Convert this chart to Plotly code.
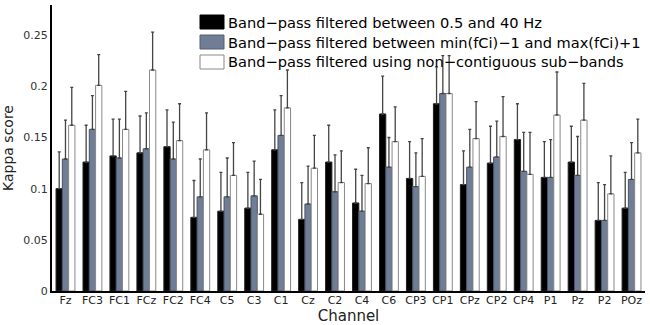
import plotly.graph_objects as go

channels = ["Fz", "FC3", "FC1", "FCz", "FC2", "FC4", "C5", "C3", "C1", "Cz", "C2",
            "C4", "C6", "CP3", "CP1", "CPz", "CP2", "CP4", "P1", "Pz", "P2", "POz"]

broad = [0.100, 0.126, 0.132, 0.135, 0.141, 0.072, 0.078, 0.081, 0.138, 0.070, 0.126,
         0.086, 0.173, 0.110, 0.183, 0.104, 0.125, 0.148, 0.111, 0.126, 0.069, 0.081]
broad_err = [0.036, 0.036, 0.036, 0.036, 0.036, 0.036, 0.038, 0.035, 0.039, 0.036, 0.036,
             0.033, 0.037, 0.036, 0.036, 0.033, 0.036, 0.035, 0.035, 0.035, 0.037, 0.035]

minmax = [0.129, 0.158, 0.130, 0.139, 0.129, 0.092, 0.092, 0.093, 0.152, 0.085, 0.097,
          0.078, 0.121, 0.102, 0.193, 0.121, 0.131, 0.117, 0.111, 0.113, 0.069, 0.109]
minmax_err = [0.038, 0.033, 0.038, 0.035, 0.036, 0.037, 0.038, 0.034, 0.039, 0.037, 0.036,
              0.035, 0.029, 0.033, 0.037, 0.037, 0.035, 0.038, 0.037, 0.038, 0.035, 0.036]

subbands = [0.162, 0.201, 0.158, 0.216, 0.147, 0.138, 0.113, 0.075, 0.179, 0.120, 0.106,
            0.105, 0.146, 0.112, 0.193, 0.149, 0.151, 0.114, 0.172, 0.167, 0.095, 0.135]
subbands_err = [0.037, 0.030, 0.037, 0.037, 0.036, 0.036, 0.032, 0.034, 0.037, 0.032, 0.031,
                0.035, 0.034, 0.037, 0.037, 0.036, 0.039, 0.041, 0.042, 0.036, 0.037, 0.033]

series_names = ["Band\u2212pass filtered between 0.5 and 40 Hz",
                "Band\u2212pass filtered between min(fCi)\u22121 and max(fCi)+1",
                "Band\u2212pass filtered using non\u2212contiguous sub\u2212bands"]
series_values = [broad, minmax, subbands]
series_errors = [broad_err, minmax_err, subbands_err]
fills = ["#000000", "#6f7d95", "#ffffff"]
outlines = ["#222222", "#4a5366", "#888888"]

FONT = "DejaVu Sans, Liberation Sans, Arial"

fig = go.Figure()
for name, vals, errs, fc, lc in zip(series_names, series_values, series_errors, fills, outlines):
    fig.add_trace(go.Bar(
        x=channels, y=vals, name=name,
        marker=dict(color=fc, line=dict(color=lc, width=1)),
        error_y=dict(type="data", symmetric=False, array=errs,
                     arrayminus=[0] * len(errs), color="#444444",
                     thickness=1.3, width=1.5),
        showlegend=False,
    ))

# legend drawn as boxes + text (top right)
PL, PR, PT, PB = 52, 645, 5, 291
pw, ph = PR - PL, PB - PT
leg_x0, leg_x1 = 200, 224
leg_rows = [22, 42, 62]
for (y, fc, lc, name) in zip(leg_rows, fills, ["#000000", "#555e70", "#888888"], series_names):
    fig.add_shape(type="rect", xref="paper", yref="paper",
                  x0=(leg_x0 - PL) / pw, x1=(leg_x1 - PL) / pw,
                  y0=(PB - (y + 7)) / ph, y1=(PB - (y - 7)) / ph,
                  fillcolor=fc, line=dict(color=lc, width=1))
    fig.add_annotation(xref="paper", yref="paper", x=(226 - PL) / pw,
                       y=(PB - y) / ph, text=name, showarrow=False,
                       xanchor="left", yanchor="middle",
                       font=dict(family=FONT, size=14.6, color="#000000"))

fig.update_layout(
    width=650, height=325,
    margin=dict(l=PL, r=650 - PR, t=PT, b=325 - PB, autoexpand=False),
    plot_bgcolor="white", paper_bgcolor="white",
    barmode="group", bargap=0.3, bargroupgap=0.0,
    font=dict(family=FONT, size=11, color="#222222"),
    xaxis=dict(range=[-0.5, 21.5], showline=True, linecolor="black", linewidth=2,
               ticks="", showgrid=False, zeroline=False, automargin=False,
               ticklabelstandoff=-2,
               tickfont=dict(size=11, color="#222222"),
               title=dict(text="Channel", font=dict(size=15, color="#222222"), standoff=6)),
    yaxis=dict(range=[0, 0.2795], showline=True, linecolor="black", linewidth=2,
               ticks="", showgrid=False, zeroline=False, automargin=False,
               tickvals=[0, 0.05, 0.1, 0.15, 0.2, 0.25],
               ticktext=["0", "0.05", "0.1", "0.15", "0.2", "0.25"],
               tickfont=dict(size=11, color="#333333"),
               title=dict(text="Kappa score", font=dict(size=14, color="#222222"), standoff=8)),
)

fig.write_html("out.html", config={"displayModeBar": False},
               post_script="document.body.style.margin='0';document.body.style.overflow='hidden';")
